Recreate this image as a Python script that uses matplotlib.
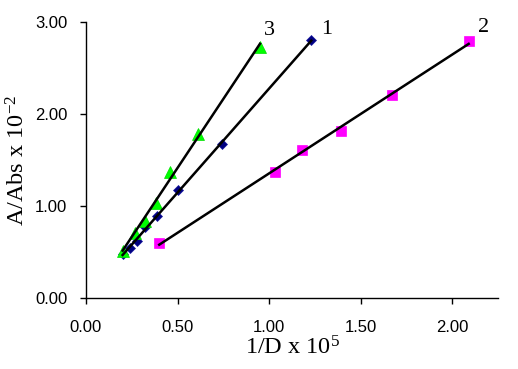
import matplotlib
matplotlib.use('Agg')
import matplotlib.pyplot as plt
import numpy as np

# series 1 - navy diamonds
x1 = [0.20, 0.24, 0.28, 0.32, 0.39, 0.50, 0.74, 1.23]
y1 = [0.48, 0.54, 0.62, 0.77, 0.89, 1.17, 1.67, 2.80]
# series 2 - magenta squares
x2 = [0.40, 1.03, 1.18, 1.39, 1.67, 2.09]
y2 = [0.60, 1.37, 1.61, 1.82, 2.21, 2.79]
# series 3 - green triangles
x3 = [0.20, 0.27, 0.32, 0.38, 0.46, 0.61, 0.95]
y3 = [0.51, 0.71, 0.84, 1.03, 1.37, 1.78, 2.73]

series_names = ['1', '2', '3']
xticks = [0.0, 0.5, 1.0, 1.5, 2.0]
yticks = [0.0, 1.0, 2.0, 3.0]

plt.rcParams['font.family'] = ['Liberation Sans']
plt.rcParams['mathtext.fontset'] = 'custom'
plt.rcParams['mathtext.rm'] = 'Liberation Serif'
plt.rcParams['mathtext.it'] = 'Liberation Serif:italic'
plt.rcParams['mathtext.bf'] = 'Liberation Serif:bold'

fig = plt.figure(figsize=(5.18, 3.69), dpi=100)
ax = fig.add_axes([86 / 518, 1 - 298 / 369, 412 / 518, 276 / 369])

serif = ['Liberation Serif']

styles = [
    dict(marker='D', color='#000080', ms=5.5, mec='#1a1aa0', mew=0.5),
    dict(marker='s', color='#FF00FF', ms=7, mec='#FF00FF', mew=0.5),
    dict(marker='^', color='#00FF00', ms=8, mec='#00DD00', mew=0.5),
]
offsets = [(11, 8), (11, 10), (7, 12)]

for (xs, ys), st, name, off in zip([(x1, y1), (x2, y2), (x3, y3)], styles,
                                   series_names, offsets):
    xs = np.array(xs)
    ys = np.array(ys)
    k, b = np.polyfit(xs, ys, 1)
    xl = np.array([xs.min(), xs.max()])
    ax.plot(xs, ys, linestyle='none', zorder=2, **st)
    ax.plot(xl, k * xl + b, color='black', linewidth=1.8, zorder=3)
    ax.annotate(name, (xs[-1], ys[-1]), xytext=off, textcoords='offset points',
                fontsize=16, family=serif, ha='center', va='center')

ax.set_xlim(0, 2.25)
ax.set_ylim(0, 3.0)
ax.set_xticks(xticks)
ax.set_yticks(yticks)
ax.set_xticklabels([f'{v:.2f}' for v in xticks], fontsize=12)
ax.set_yticklabels([f'{v:.2f}' for v in yticks], fontsize=12)
ax.tick_params(direction='out', length=4.5, width=1)
ax.tick_params(axis='x', pad=11)
ax.tick_params(axis='y', pad=9)

ax.spines['top'].set_visible(False)
ax.spines['right'].set_visible(False)
ax.spines['left'].set_linewidth(1)
ax.spines['bottom'].set_linewidth(1)

ax.set_xlabel(r'1/D x 10$^{5}$', family=serif, fontsize=17.5, labelpad=1)
ax.set_ylabel(r'A/Abs x 10$^{-2}$', family=serif, fontsize=17.5, labelpad=4)

fig.savefig('out.png', dpi=100)
plt.close(fig)
